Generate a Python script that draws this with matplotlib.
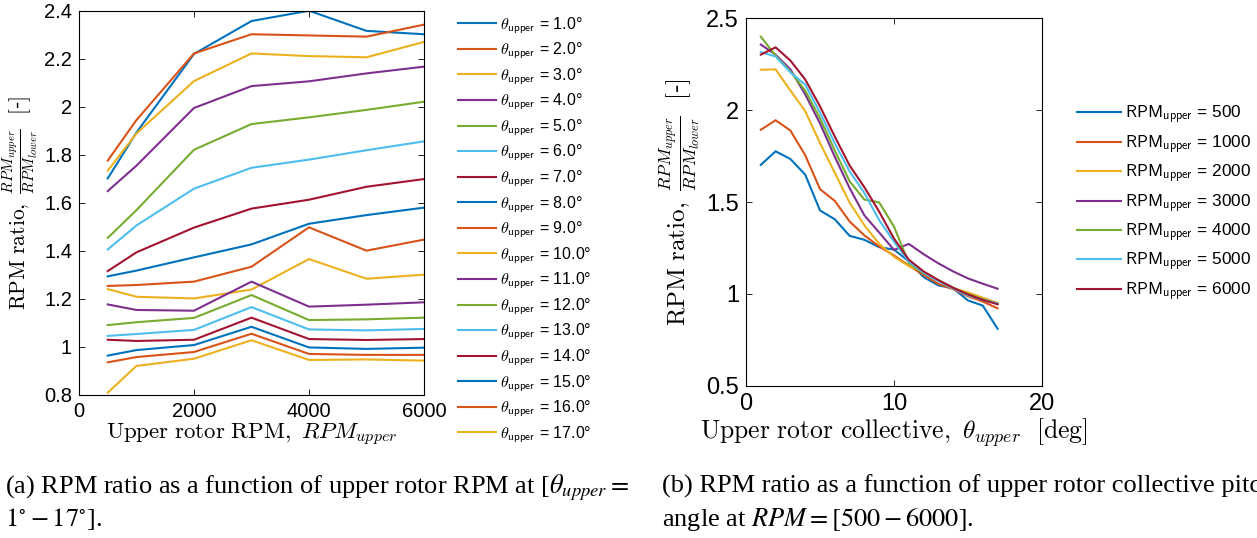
import numpy as np
import matplotlib
matplotlib.use('Agg')
import matplotlib.pyplot as plt

plt.rcParams['font.family'] = ['Liberation Sans', 'DejaVu Sans']
plt.rcParams['mathtext.fontset'] = 'cm'

# upper rotor RPM and collective
rpm_upper = [500, 1000, 2000, 3000, 4000, 5000, 6000]
theta_upper = [1, 2, 3, 4, 5, 6, 7, 8, 9, 10, 11, 12, 13, 14, 15, 16, 17]

# RPM ratio, one row per theta, one column per RPM
t01 = [1.702, 1.893, 2.220, 2.357, 2.400, 2.316, 2.302]
t02 = [1.776, 1.945, 2.222, 2.302, 2.297, 2.292, 2.342]
t03 = [1.734, 1.889, 2.107, 2.222, 2.211, 2.206, 2.270]
t04 = [1.649, 1.755, 1.995, 2.086, 2.106, 2.139, 2.167]
t05 = [1.454, 1.570, 1.821, 1.928, 1.956, 1.987, 2.021]
t06 = [1.406, 1.506, 1.659, 1.746, 1.780, 1.819, 1.856]
t07 = [1.316, 1.394, 1.497, 1.576, 1.613, 1.667, 1.699]
t08 = [1.294, 1.318, 1.373, 1.427, 1.513, 1.549, 1.580]
t09 = [1.254, 1.258, 1.272, 1.334, 1.498, 1.401, 1.447]
t10 = [1.241, 1.209, 1.202, 1.239, 1.366, 1.284, 1.301]
t11 = [1.177, 1.154, 1.151, 1.272, 1.168, 1.176, 1.186]
t12 = [1.091, 1.103, 1.121, 1.216, 1.112, 1.115, 1.122]
t13 = [1.046, 1.054, 1.071, 1.166, 1.073, 1.069, 1.075]
t14 = [1.030, 1.025, 1.030, 1.122, 1.033, 1.029, 1.033]
t15 = [0.964, 0.987, 1.008, 1.084, 0.998, 0.992, 0.997]
t16 = [0.936, 0.958, 0.979, 1.055, 0.971, 0.967, 0.967]
t17 = [0.810, 0.921, 0.951, 1.028, 0.946, 0.948, 0.943]

ratio = np.array([t01, t02, t03, t04, t05, t06, t07, t08, t09,
                  t10, t11, t12, t13, t14, t15, t16, t17])

colores = ['#0072BD', '#D95319', '#EDB120', '#7E2F8E',
           '#77AC30', '#4DBEEE', '#A2142F']

W, H = 1257, 538
fig = plt.figure(figsize=(W / 100, H / 100), dpi=100)

ylab = (r'$\mathrm{RPM\ ratio,}\ \frac{RPM_{upper}}{RPM_{lower}}\ \ [$' + '-' + r'$]$')

def caja(ax, fs):
    ax.tick_params(direction='in', top=True, right=True, labelsize=fs,
                   length=4, width=0.6, pad=5)
    for s in ax.spines.values():
        s.set_linewidth(0.8)

# (a)
ax1 = fig.add_axes([79 / W, 1 - 395 / H, (424 - 79) / W, (395 - 10.7) / H])
for i, th in enumerate(theta_upper):
    ax1.plot(rpm_upper, ratio[i], color=colores[i % 7], lw=1.5,
             label=r'$\theta_{\mathsf{upper}}$' + ' = %.1f°' % th)
ax1.set_xlim(0, 6000)
ax1.set_ylim(0.8, 2.4)
ax1.set_xticks([0, 2000, 4000, 6000])
ax1.set_yticks(np.arange(0.8, 2.41, 0.2))
ax1.set_yticklabels(['0.8', '1', '1.2', '1.4', '1.6', '1.8', '2', '2.2', '2.4'])
caja(ax1, 14.5)
ax1.set_xlabel(r'$\mathrm{Upper\ rotor\ RPM,}\ RPM_{upper}$', fontsize=16.5, labelpad=1)
ax1.set_ylabel(ylab, fontsize=15.5, labelpad=3)
ax1.legend(loc='upper left', bbox_to_anchor=(450 / W, 1 - 7 / H),
           bbox_transform=fig.transFigure, frameon=False, fontsize=11.5,
           handlelength=2.4, handletextpad=0.2, labelspacing=0.31,
           borderpad=0)

# (b)
ax2 = fig.add_axes([746 / W, 1 - 385.7 / H, (1042 - 746) / W, (385.7 - 18.3) / H])
for j, rpm in enumerate(rpm_upper):
    ax2.plot(theta_upper, ratio[:, j], color=colores[j], lw=1.5,
             label=r'$\mathsf{RPM}_{\mathsf{upper}}$' + ' = %d' % rpm)
ax2.set_xlim(0, 20)
ax2.set_ylim(0.5, 2.5)
ax2.set_xticks([0, 10, 20])
ax2.set_yticks([0.5, 1, 1.5, 2, 2.5])
ax2.set_yticklabels(['0.5', '1', '1.5', '2', '2.5'])
caja(ax2, 17)
ax2.set_xlabel(r'$\mathrm{Upper\ rotor\ collective,}\ \theta_{upper}\ \ [\mathrm{deg}]$',
               fontsize=18.5, labelpad=1)
ax2.set_ylabel(ylab, fontsize=18, labelpad=3)
ax2.legend(loc='upper left', bbox_to_anchor=(1068 / W, 1 - 95 / H),
           bbox_transform=fig.transFigure, frameon=False, fontsize=12.4,
           handlelength=2.6, handletextpad=0.2, labelspacing=0.38,
           borderpad=0)

# captions
cap = dict(fontsize=19, family='Liberation Serif', va='baseline',
           math_fontfamily='stix')
fig.text(5 / W, 1 - 493 / H,
         r'(a) RPM ratio as a function of upper rotor RPM at [$\theta_{upper} =$', **cap)
fig.text(5 / W, 1 - 526 / H, r'$1^{\circ}-17^{\circ}$].', **cap)
fig.text(662 / W, 1 - 493 / H,
         '(b) RPM ratio as a function of upper rotor collective pitch', **cap)
fig.text(662 / W, 1 - 526 / H, r'angle at $RPM = [500-6000]$.', **cap)

fig.savefig('out.png', dpi=100)
